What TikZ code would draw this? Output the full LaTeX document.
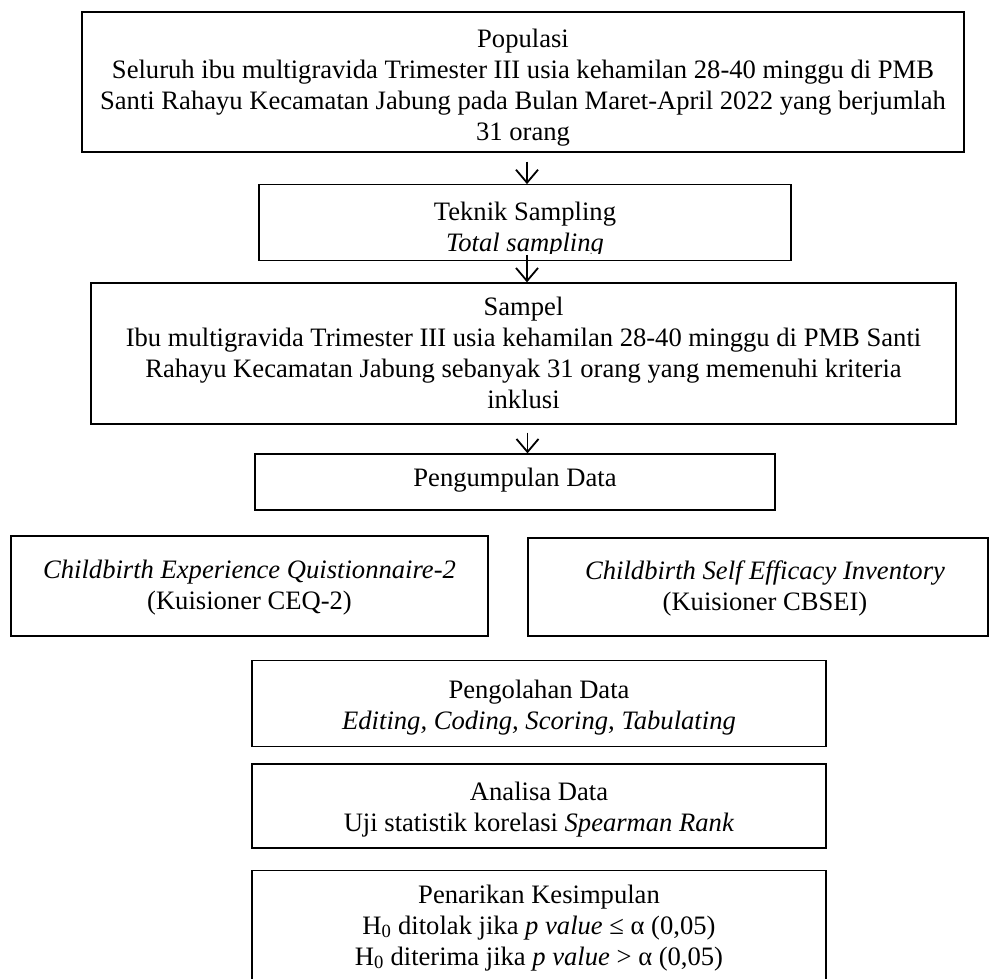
\documentclass[tikz,border=0pt]{standalone}
\usepackage{fontspec}
\setmainfont{Liberation Serif}
\usetikzlibrary{arrows.meta}
\begin{document}
\begin{tikzpicture}[x=1pt,y=-1pt,
  box/.style={draw=black, line width=1.3pt, rectangle, inner sep=0pt},
  txt/.style={inner sep=0pt, anchor=north, align=center, font=\fontsize{26.6}{31}\selectfont},
  arr/.style={line width=1.8pt, -{Straight Barb[length=13pt,width=22pt,line width=1.8pt]}}]
\clip (0,0) rectangle (992,978);
\fill[white] (0,0) rectangle (992,978);
% Populasi
\node[box, minimum width=882pt, minimum height=140pt] (b1) at (523,82) {};
\node[txt] (t1) at (523,28.5)
  {Populasi\\Seluruh ibu multigravida Trimester III usia kehamilan 28-40 minggu di PMB\\Santi Rahayu Kecamatan Jabung pada Bulan Maret-April 2022 yang berjumlah\\31 orang};
% Teknik sampling
\node[box, minimum width=532pt, minimum height=75.5pt] (b2) at (525,222.5) {};
\begin{scope}
\clip (259,184) rectangle (791,253.5);
\node[txt] (t2) at (525,202) {Teknik Sampling\\\textit{Total sampling}};
\end{scope}
% Sampel
\node[box, minimum width=865pt, minimum height=141pt] (b3) at (523.5,353.5) {};
\node[txt] (t3) at (523.5,297)
  {Sampel\\Ibu multigravida Trimester III usia kehamilan 28-40 minggu di PMB Santi\\Rahayu Kecamatan Jabung sebanyak 31 orang yang memenuhi kriteria\\inklusi};
% Pengumpulan data
\node[box, minimum width=520pt, minimum height=56pt] (b4) at (515,482) {};
\node[txt] (t4) at (515,468) {Pengumpulan Data};
% Instruments
\node[box, minimum width=477pt, minimum height=100pt] (b5) at (249.5,586) {};
\node[txt] (t5) at (249.5,560) {\textit{Childbirth Experience Quistionnaire-2}\\(Kuisioner CEQ-2)};
\node[box, minimum width=460pt, minimum height=98pt] (b6) at (758,587) {};
\node[txt] (t6) at (765,561) {\textit{Childbirth Self Efficacy Inventory}\\(Kuisioner CBSEI)};
% Pengolahan
\node[box, minimum width=574pt, minimum height=85.5pt] (b7) at (539,703.5) {};
\node[txt] (t7) at (539,679.5) {Pengolahan Data\\\textit{Editing, Coding, Scoring, Tabulating}};
% Analisa
\node[box, minimum width=574pt, minimum height=84pt] (b8) at (539,806) {};
\node[txt] (t8) at (539,781.5) {Analisa Data\\Uji statistik korelasi \textit{Spearman Rank}};
% Penarikan
\node[box, minimum width=574pt, minimum height=130pt] (b9) at (539,935.5) {};
\node[txt] (t9) at (539,884.5)
  {Penarikan Kesimpulan\\H\textsubscript{0} ditolak jika \textit{p value} ≤ α (0,05)\\H\textsubscript{0} diterima jika \textit{p value} > α (0,05)};
% arrows
\draw[arr] ([xshift=4pt,yshift=-9pt]b1.south) -- ([xshift=4pt]b1.south |- b2.north);
\draw[arr] ([xshift=2pt,yshift=6pt]b2.south) -- ([xshift=2pt]b2.south |- b3.north);
\draw[arr] ([xshift=4pt,yshift=-8pt]b3.south) -- ([xshift=4pt]b3.south |- b4.north);
\end{tikzpicture}
\end{document}
